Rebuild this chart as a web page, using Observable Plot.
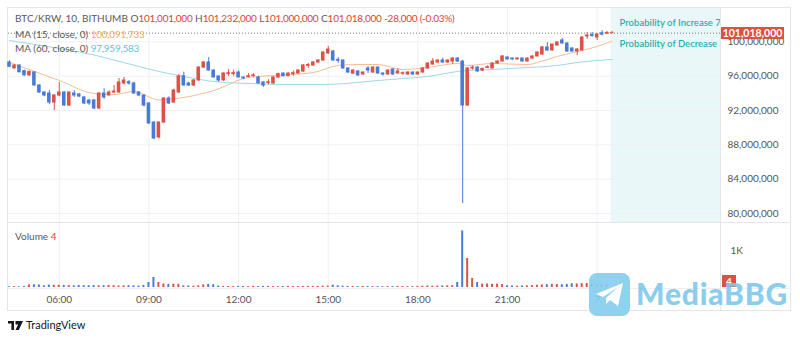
<!DOCTYPE html>
<html><head><meta charset="utf-8">
<script src="https://cdn.jsdelivr.net/npm/d3@7"></script>
<script src="https://cdn.jsdelivr.net/npm/@observablehq/plot@0.6"></script>
<style>
body{margin:0;background:#fff;}
#root{position:relative;width:800px;height:340px;overflow:hidden;font-family:Lato,sans-serif;background:#fff;}
.abs{position:absolute;white-space:nowrap;}
#root svg{position:absolute;left:0;top:0;}
.lg{font-size:10px;line-height:14px;color:#5a5a5a;}
.rd{color:#d9453b;}
.nm{letter-spacing:-0.25px;}
</style></head><body><div id="root"></div>
<script>
// ---- data (prices in millions of KRW) ----
const open  = [97.60,96.90,97.25,96.60,96.10,96.45,94.92,94.10,93.98,92.93,93.75,94.10,92.58,93.98,93.87,93.52,93.17,93.17,92.24,93.98,93.75,94.10,94.10,95.15,95.30,95.15,94.10,93.75,92.82,90.60,88.86,90.60,93.40,92.93,94.10,96.00,95.15,94.92,95.50,97.01,97.60,96.66,95.97,95.50,96.25,96.25,96.43,95.85,95.90,96.00,95.85,95.27,95.20,95.15,95.85,96.31,96.00,96.25,96.31,96.55,97.20,97.25,97.60,97.83,98.65,98.88,97.90,97.83,96.90,96.31,96.55,96.20,96.90,96.43,97.01,96.31,96.20,96.78,96.31,96.28,96.20,96.43,96.20,96.43,96.90,97.36,97.60,97.83,97.60,97.71,98.06,97.71,92.58,96.90,97.01,96.66,96.95,96.90,97.48,97.71,98.18,98.06,97.95,98.06,97.71,98.06,98.30,98.53,99.35,99.00,99.58,100.16,99.81,99.23,98.88,99.00,100.63,100.80,100.51,101.00,100.95,101.001];
const high  = [97.80,97.35,97.30,96.70,96.60,96.50,95.00,94.20,94.33,93.85,95.27,94.20,94.20,94.33,94.00,93.60,93.30,93.30,94.10,94.55,94.30,94.92,95.73,95.85,95.50,95.30,94.20,93.85,92.90,90.70,90.70,93.50,93.60,94.50,96.20,96.47,95.30,95.60,97.10,97.70,98.18,96.75,96.05,96.40,96.78,96.70,96.60,95.90,96.30,96.30,96.00,95.35,95.60,95.95,96.35,96.40,96.40,96.60,96.75,97.35,97.48,97.70,97.90,98.85,99.46,99.00,98.18,97.90,97.00,96.75,96.65,96.50,97.13,97.10,97.10,96.40,96.75,96.85,96.90,96.50,96.50,96.50,96.50,97.00,97.55,98.06,97.90,98.10,97.90,98.15,98.15,97.80,97.00,97.20,97.10,96.95,97.20,97.55,97.80,98.40,98.25,98.10,98.15,98.10,98.15,98.35,98.85,99.45,99.93,99.75,100.00,100.39,99.90,99.30,99.20,100.60,101.10,101.10,100.95,101.30,101.20,101.232];
const low   = [97.00,96.85,96.40,96.00,96.00,94.85,94.00,93.60,92.70,92.00,93.60,92.50,92.50,93.52,93.50,92.70,92.60,92.10,92.10,93.30,93.70,93.98,94.00,95.00,94.95,93.90,93.60,92.45,90.40,88.60,88.70,90.50,92.70,92.85,94.00,94.80,94.80,94.80,95.40,96.90,96.60,95.80,95.30,95.40,95.97,96.00,95.80,95.60,95.80,95.90,95.10,94.70,95.00,95.05,95.75,95.90,95.95,96.00,96.25,96.45,96.90,97.15,97.50,97.75,98.55,97.75,97.48,96.80,96.35,96.20,96.00,96.10,96.31,96.35,96.25,96.00,96.10,96.10,96.25,96.10,96.10,96.10,96.10,96.35,96.80,97.30,97.50,97.50,97.50,97.36,97.60,81.16,92.50,96.70,96.45,96.55,96.90,96.85,97.40,97.65,97.90,97.85,97.90,97.65,97.65,98.00,98.25,98.45,98.90,98.95,99.50,99.75,98.80,98.80,98.41,98.95,100.30,100.50,100.16,100.70,100.90,101.000];
const close = [97.10,97.25,96.45,96.10,96.50,94.92,94.10,93.75,92.93,93.75,94.10,92.58,94.10,93.75,93.63,92.82,92.82,92.24,93.98,93.52,94.10,94.22,95.27,95.50,95.15,93.98,93.75,92.58,90.49,88.74,90.60,93.40,92.82,94.33,95.97,94.92,94.92,95.50,97.01,97.60,96.66,95.85,95.50,96.31,96.35,96.35,95.85,95.73,96.00,96.10,95.15,94.92,95.30,95.85,96.25,96.00,96.31,96.35,96.66,97.25,97.30,97.60,97.83,98.76,99.11,97.83,97.80,96.90,96.43,96.66,96.08,96.43,96.66,97.01,96.31,96.20,96.66,96.20,96.55,96.35,96.43,96.20,96.43,96.90,97.48,97.71,97.83,97.60,97.83,98.06,97.71,92.58,96.90,97.00,96.55,96.85,97.05,97.48,97.71,98.30,97.95,97.95,98.06,97.71,98.06,98.30,98.76,99.35,99.00,99.69,99.93,99.81,98.88,98.88,99.11,100.51,100.74,100.70,100.86,100.85,101.046,101.018];
const volume = [20,22,18,25,70,75,68,45,65,60,62,55,50,45,55,50,48,52,45,50,55,48,40,45,50,45,40,55,135,270,135,95,85,90,85,45,40,35,45,70,85,75,40,30,28,25,30,28,25,30,25,28,30,25,22,28,30,25,25,28,30,30,32,35,40,65,45,35,30,28,25,30,28,25,25,22,28,25,30,25,22,25,30,35,40,35,38,42,45,50,135,1530,785,245,135,90,95,85,90,80,45,40,35,40,45,50,60,70,75,85,80,75,85,100,95,105,110,85,80,90,75,4];
const startTime = Date.UTC(2024, 10, 6, 4, 20); // first 10-minute candle
const candleMinutes = 10;
// moving averages at candle indices
const maIndex = [0,10,17,21,25,30,35,41,48,55,61,66,70,74,79,84,90,92,97,104,106,110,114,118,121];
const ma15 = [97.60,95.50,93.98,93.87,94.22,93.23,93.52,94.33,95.85,96.14,96.43,97.25,97.36,97.36,96.78,97.01,97.48,97.25,97.48,97.36,97.60,98.30,98.88,99.46,100.09];
const ma60 = [100.16,99.23,98.47,97.88,97.28,96.55,95.97,95.38,95.15,95.03,95.03,95.09,95.27,95.50,95.73,95.97,96.55,96.66,96.78,97.01,97.07,97.25,97.60,97.83,97.96];
const priceTicks = [80,84,88,92,96,100];
const volumeTicks = [1000];
const timeTicks = ["2024-11-06T06:00Z","2024-11-06T09:00Z","2024-11-06T12:00Z","2024-11-06T15:00Z","2024-11-06T18:00Z","2024-11-06T21:00Z","2024-11-07T00:00Z"].map(s=>new Date(s));
const probLabels = ["Probability of Increase 71%","Probability of Decrease 29%"];
const probLabelPrice = [102.26, 99.81];
const lastClose = 101.018, lastVolume = 4;

// ---- build ----
const RED = "#dc5246", BLUE = "#4a7bd8";
const MIN = 60000;
const tAt = k => new Date(startTime + k*candleMinutes*MIN);
const candles = open.map((o,i)=>({t:tAt(i), o, h:high[i], l:low[i], c:close[i], v:volume[i], col: close[i]>=o ? RED : BLUE}));
const xDomain = [tAt(-0.2), tAt(142.77)];
const shift = (d,m) => new Date(+d + m*MIN);
const fmtTime = d => (d.getUTCHours()===0 && d.getUTCMinutes()===0) ? String(d.getUTCDate()) : d3.utcFormat("%H:%M")(d);
const maData15 = maIndex.map((k,i)=>({t:tAt(k), p:ma15[i]}));
const maData60 = maIndex.map((k,i)=>({t:tAt(k), p:ma60[i]}));
const lastT = candles[candles.length-1].t;

const common = {width:800, height:340, marginLeft:8, marginRight:80,
  style:{background:"transparent", color:"#555", fontSize:"10px", fontFamily:"Lato, sans-serif"}};

const pricePlot = Plot.plot({...common, marginTop:8, marginBottom:118,
  x:{type:"utc", domain:xDomain, axis:null},
  y:{domain:[78.95,103.89], axis:null, label:null},
  marks:[
    Plot.rect([0], {x1:()=>shift(lastT,-2), x2:()=>xDomain[1], y1:()=>78.95, y2:()=>103.89, fill:"#eaf7f8"}),
    Plot.gridY(priceTicks, {stroke:"#eef0f4", strokeOpacity:1}),
    Plot.gridX(timeTicks, {stroke:"#eef0f4", strokeOpacity:1}),
    Plot.ruleY([lastClose], {stroke:"#7a7a7a", strokeDasharray:"1,2"}),
    Plot.line(maData60, {x:"t", y:"p", stroke:"#9fd8e6", strokeWidth:1, curve:"monotone-x"}),
    Plot.line(maData15, {x:"t", y:"p", stroke:"#f6bd93", strokeWidth:1, curve:"monotone-x"}),
    Plot.ruleX(candles, {x:"t", y1:"l", y2:"h", stroke:"col", strokeWidth:1}),
    Plot.rect(candles, {x1:d=>shift(d.t,-3.6), x2:d=>shift(d.t,3.6), y1:"o", y2:"c", fill:"col", insetTop:-0.5, insetBottom:-0.5}),
    Plot.text(probLabels, {x:()=>tAt(122.5), y:(d,i)=>probLabelPrice[i], text:d=>d, textAnchor:"start", fill:"#2aaeb0", fontSize:9.5, fontWeight:600, letterSpacing:"-0.25px", clip:true}),
    Plot.axisY(priceTicks, {anchor:"right", label:null, tickSize:0, tickPadding:7, tickFormat:d=>d3.format(",")(Math.round(d*1e6))})
  ]});

const volPlot = Plot.plot({...common, marginTop:223, marginBottom:53,
  x:{type:"utc", domain:xDomain, axis:null, label:null},
  y:{domain:[0,1730], axis:null, label:null},
  marks:[
    Plot.gridX(timeTicks, {stroke:"#eef0f4", strokeOpacity:1}),
    Plot.rect(candles, {x1:d=>shift(d.t,-2), x2:d=>shift(d.t,2), y1:()=>0, y2:"v", fill:"col"}),
    Plot.axisY(volumeTicks, {anchor:"right", label:null, tickSize:0, tickPadding:10, tickFormat:()=>"1K"}),
    Plot.axisX(timeTicks, {anchor:"bottom", label:null, tickSize:0, tickPadding:8, tickFormat:fmtTime})
  ]});

const root = document.getElementById("root");
function box(css){const d=document.createElement("div"); d.className="abs"; d.style.cssText=css; root.appendChild(d); return d;}
// chart chrome
box("left:7px;top:7px;width:784px;height:304px;border:1px solid #e3e5ea;box-sizing:border-box;");
box("left:7px;top:222px;width:784px;height:1px;background:#e3e5ea;");
box("left:7px;top:288px;width:784px;height:1px;background:#eceef2;");
box("left:720px;top:7px;width:1px;height:304px;background:#e3e5ea;");
root.appendChild(pricePlot);
root.appendChild(volPlot);
// legends
const l1 = box("left:15px;top:11px;"); l1.className="abs lg";
l1.innerHTML = 'BTC/KRW, 10, BITHUMB O<span class="rd nm">101,001,000</span> H<span class="rd nm">101,232,000</span> L<span class="rd nm">101,000,000</span> C<span class="rd nm">101,018,000</span> <span class="rd nm">-28,000 (-0.03%)</span>';
const l2 = box("left:15px;top:27px;"); l2.className="abs lg";
l2.innerHTML = 'MA (15, close, 0) <span class="nm" style="color:#f2a868">100,091,733</span>';
const l3 = box("left:15px;top:41px;"); l3.className="abs lg";
l3.innerHTML = 'MA (60, close, 0) <span class="nm" style="color:#5cc6d6">97,959,583</span>';
const l4 = box("left:15px;top:229px;"); l4.className="abs lg";
l4.innerHTML = 'Volume <span class="rd">4</span>';
// last-value labels positioned through the scales
const yP = pricePlot.scale("y").apply(lastClose);
const pl = box(`left:721px;top:${yP-5.5}px;width:63px;height:12px;background:#df5040;color:#fff;font-size:10.5px;font-weight:700;line-height:12px;text-align:center;`);
pl.textContent = "101,018,000";
const yV = Math.min(volPlot.scale("y").apply(lastVolume), 281);
const vl = box(`left:722px;top:${yV-6}px;width:14px;height:12px;background:#df5040;color:#fff;font-size:10px;font-weight:700;line-height:12px;text-align:center;`);
vl.textContent = String(lastVolume);
// TradingView mark
const tv = box("left:8px;top:318px;font-size:11px;color:#131722;line-height:14px;");
tv.innerHTML = '<svg width="15" height="9" style="position:static;vertical-align:-1px;margin-right:3px" viewBox="0 0 15 9"><path d="M0 0h6v9H3.4V2.4H0z M7.5 0h7.5l-4.2 9H7.5l2.6-5.6H7.5z" fill="#131722"/></svg>TradingView';
// watermark
const wm = box("left:589px;top:273px;width:41px;height:43px;border-radius:8px;background:#86cdef;opacity:0.9;");
wm.innerHTML = '<svg width="41" height="43" style="position:static" viewBox="0 0 41 43"><path d="M7 21 L34 10 L29 33 L21 27 L17 31 L17 25 L29 14 L14 24 Z" fill="#fff"/></svg>';
const wt = box("left:636px;top:276px;font-size:30px;font-weight:900;color:#7fc8ec;opacity:0.9;letter-spacing:0.8px;line-height:34px;");
wt.textContent = "MediaBBG";
</script></body></html>
